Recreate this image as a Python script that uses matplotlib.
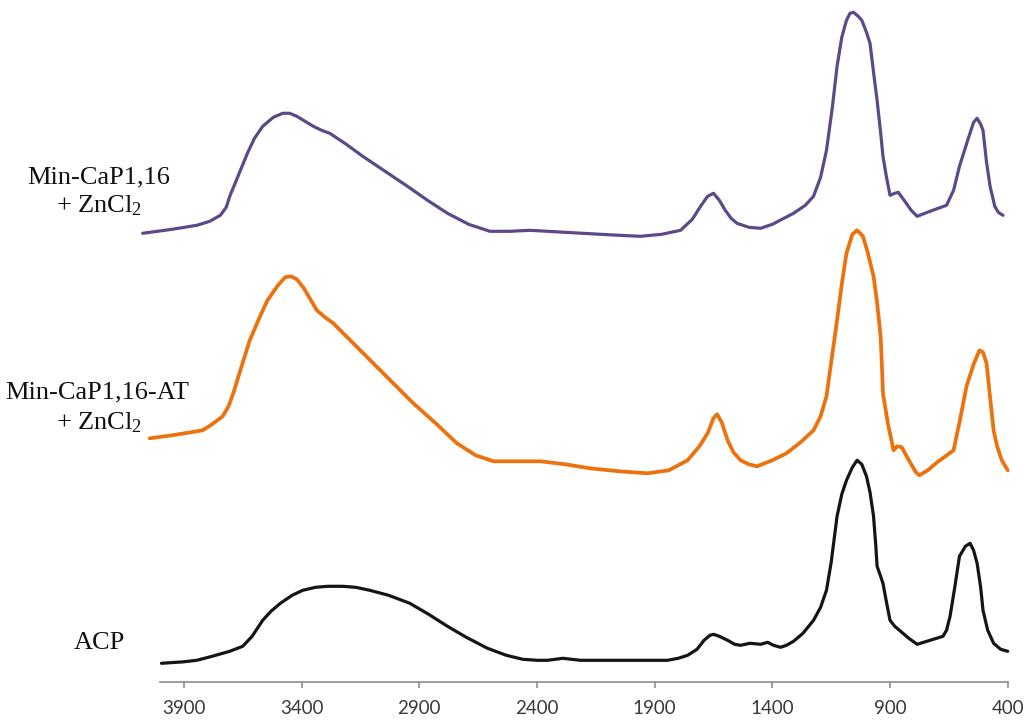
import matplotlib
matplotlib.use("Agg")
import matplotlib.pyplot as plt

plt.rcParams["mathtext.fontset"] = "custom"
plt.rcParams["mathtext.rm"] = "Liberation Serif"
plt.rcParams["mathtext.it"] = "Liberation Serif:italic"

# FTIR spectra, stacked (absorbance, arbitrary units, already offset)
wn_acp = [3995, 3900, 3845, 3780, 3705, 3650, 3610, 3565, 3530, 3490, 3440, 3395,
          3340, 3290, 3225, 3170, 3110, 3030, 2940, 2860, 2780, 2700, 2610, 2530,
          2460, 2400, 2355, 2290, 2215, 2000, 1845, 1800, 1760, 1720, 1690, 1665,
          1650, 1625, 1590, 1560, 1535, 1495, 1470, 1450, 1420, 1395, 1365, 1340,
          1310, 1270, 1225, 1195, 1170, 1150, 1125, 1105, 1085, 1060, 1040, 1020,
          1000, 985, 970, 960, 955, 940, 930, 915, 900, 880, 860, 820, 785, 730,
          675, 660, 645, 625, 605, 580, 560, 545, 530, 515, 505, 485, 460, 430, 400]
acp = [0.19, 0.205, 0.22, 0.26, 0.31, 0.36, 0.46, 0.62, 0.71, 0.79, 0.87, 0.92,
       0.95, 0.96, 0.96, 0.95, 0.92, 0.87, 0.79, 0.68, 0.56, 0.45, 0.34, 0.27,
       0.23, 0.22, 0.22, 0.24, 0.22, 0.22, 0.22, 0.24, 0.27, 0.33, 0.42, 0.47,
       0.48, 0.46, 0.42, 0.38, 0.37, 0.39, 0.385, 0.38, 0.40, 0.37, 0.35, 0.37,
       0.41, 0.49, 0.62, 0.75, 0.92, 1.20, 1.66, 1.88, 2.02, 2.15, 2.22, 2.18,
       2.06, 1.90, 1.66, 1.35, 1.16, 1.06, 0.99, 0.80, 0.62, 0.56, 0.52, 0.44, 0.38, 0.42,
       0.46, 0.52, 0.66, 0.95, 1.26, 1.36, 1.39, 1.32, 1.19, 0.95, 0.72, 0.52, 0.39, 0.33, 0.31]

wn_at = [4045, 3950, 3870, 3820, 3780, 3735, 3710, 3690, 3660, 3620, 3580, 3545,
         3500, 3470, 3445, 3420, 3390, 3360, 3335, 3300, 3265, 3180, 3095, 3010,
         2925, 2830, 2740, 2660, 2585, 2480, 2385, 2280, 2175, 2050, 1930, 1840,
         1760, 1710, 1675, 1650, 1635, 1615, 1590, 1565, 1535, 1500, 1465, 1400,
         1340, 1280, 1225, 1195, 1170, 1150, 1125, 1105, 1085, 1060, 1040, 1015,
         995, 970, 955, 940, 935, 930, 910, 885, 870, 850, 820, 790, 775, 740,
         700, 630, 605, 575, 545, 520, 505, 490, 475, 460, 445, 425, 400]
min_cap_at = [2.44, 2.47, 2.50, 2.52, 2.58, 2.66, 2.76, 2.89, 3.12, 3.42, 3.64, 3.82,
              3.97, 4.05, 4.06, 4.03, 3.94, 3.82, 3.72, 3.65, 3.59, 3.39, 3.19, 2.99,
              2.79, 2.59, 2.39, 2.27, 2.21, 2.21, 2.21, 2.18, 2.14, 2.11, 2.09, 2.12,
              2.22, 2.36, 2.49, 2.64, 2.68, 2.60, 2.42, 2.30, 2.22, 2.18, 2.16, 2.22,
              2.29, 2.40, 2.52, 2.66, 2.86, 3.20, 3.62, 3.98, 4.29, 4.48, 4.52, 4.46,
              4.30, 4.06, 3.80, 3.46, 3.20, 2.89, 2.60, 2.32, 2.36, 2.35, 2.22, 2.10, 2.07, 2.12,
              2.20, 2.32, 2.60, 2.96, 3.18, 3.32, 3.30, 3.19, 2.85, 2.52, 2.36, 2.22, 2.12]

wn_cap = [4075, 3950, 3845, 3790, 3745, 3720, 3705, 3670, 3630, 3600, 3565, 3520,
          3480, 3450, 3420, 3385, 3350, 3315, 3280, 3210, 3140, 3045, 2950, 2865,
          2780, 2690, 2600, 2515, 2430, 2280, 2130, 2050, 1960, 1870, 1790, 1740,
          1705, 1675, 1650, 1625, 1600, 1575, 1550, 1500, 1450, 1400, 1310, 1260,
          1225, 1195, 1170, 1145, 1125, 1105, 1085, 1070, 1055, 1035, 1020, 1000,
          985, 970, 955, 940, 930, 915, 900, 880, 865, 840, 810, 785, 730, 660,
          630, 605, 570, 545, 530, 515, 505, 490, 475, 455, 440, 420]
min_cap = [4.49, 4.53, 4.57, 4.61, 4.67, 4.75, 4.86, 5.06, 5.29, 5.44, 5.56, 5.65,
           5.69, 5.69, 5.66, 5.61, 5.56, 5.52, 5.49, 5.38, 5.26, 5.11, 4.96, 4.82,
           4.69, 4.58, 4.51, 4.51, 4.52, 4.50, 4.48, 4.47, 4.46, 4.48, 4.52, 4.63,
           4.76, 4.86, 4.89, 4.82, 4.72, 4.64, 4.59, 4.55, 4.54, 4.58, 4.69, 4.77,
           4.86, 5.05, 5.32, 5.75, 6.16, 6.45, 6.62, 6.69, 6.70, 6.66, 6.62, 6.50,
           6.39, 6.10, 5.82, 5.50, 5.26, 5.05, 4.87, 4.89, 4.90, 4.82, 4.72, 4.66, 4.71, 4.77,
           4.92, 5.16, 5.42, 5.60, 5.64, 5.58, 5.52, 5.20, 4.96, 4.76, 4.70, 4.67]

x_ticks = [3900, 3400, 2900, 2400, 1900, 1400, 900, 400]

W, H = 1029, 725
fig = plt.figure(figsize=(W / 100, H / 100), dpi=100)
ax = fig.add_axes([140.3 / W, (H - 682.3) / H, 868.6 / W, 682.3 / H])
ax.set_xlim(4085, 395)
ax.set_ylim(0, 6.823)

line_kw = dict(solid_joinstyle="round", solid_capstyle="round", clip_on=False)
ax.plot(wn_cap, min_cap, color="#5C4A88", lw=2.3, **line_kw)
ax.plot(wn_at, min_cap_at, color="#EC720E", lw=2.7, **line_kw)
ax.plot(wn_acp, acp, color="#151515", lw=2.3, **line_kw)

for side in ("left", "right", "top"):
    ax.spines[side].set_visible(False)
ax.spines["bottom"].set_bounds(4000, 400)
ax.spines["bottom"].set_color("#8c8c8c")
ax.spines["bottom"].set_linewidth(1.2)
ax.set_yticks([])
ax.set_xticks(x_ticks)
ax.set_xticklabels([str(t) for t in x_ticks], family="Lato", fontsize=13.5,
                   color="#3a3a3a")
ax.tick_params(axis="x", direction="out", length=4.5, width=1.2,
               color="#8c8c8c", pad=8)

serif = dict(family="Liberation Serif", fontsize=19, ha="center", va="center",
             color="#111111")
fig.text(98.5 / W, 1 - 177 / H, "Min-CaP1,16", **serif)
fig.text(99 / W, 1 - 206 / H, r"+ ZnCl$_\mathrm{2}$", **serif)
fig.text(97.5 / W, 1 - 392 / H, "Min-CaP1,16-AT", **serif)
fig.text(99 / W, 1 - 423 / H, r"+ ZnCl$_\mathrm{2}$", **serif)
fig.text(99 / W, 1 - 643 / H, "ACP", **serif)

fig.savefig("out.png", dpi=100)
